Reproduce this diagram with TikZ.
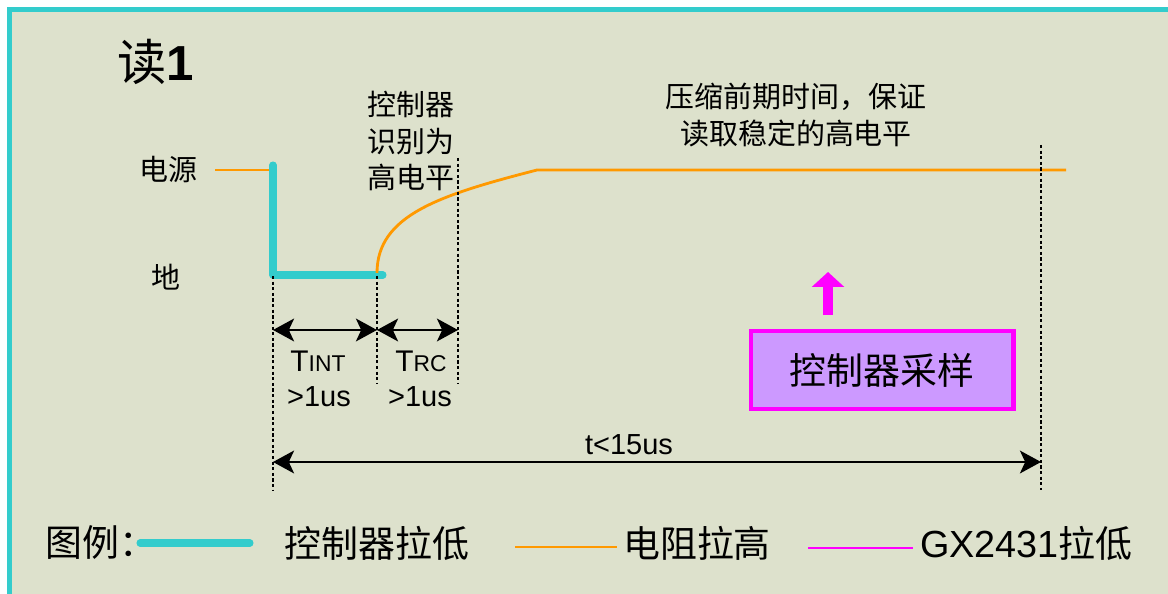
\documentclass[tikz,border=0pt]{standalone}
\usepackage{fontspec}
\setmainfont{Liberation Sans}
\newfontfamily\cjk{Noto Sans CJK SC}
\usetikzlibrary{positioning,arrows.meta}
\definecolor{colorbg}     {RGB}{221,225,204}
\definecolor{colorframe}  {RGB}{51 ,204,204}
\definecolor{colorpull}   {RGB}{255,153,0  }
\definecolor{colorgx}     {RGB}{255,0  ,255}
\definecolor{colorsample} {RGB}{204,153,255}
\definecolor{colortext}   {RGB}{0  ,0  ,0  }

\begin{document}
\begin{tikzpicture}[
    x=0.02cm, y=-0.02cm,
    txt/.style={text=colortext,font={\cjk\fontsize{16.5}{21}\selectfont},align=center,inner sep=0pt},
    big/.style={text=colortext,font={\cjk\fontsize{21}{25}\selectfont},inner sep=0pt},
    num/.style={text=colortext,font={\fontsize{16.5}{20}\selectfont},inner sep=0pt},
    low/.style={draw=colorframe,line width=4pt,line cap=round,line join=round},
    high/.style={draw=colorpull,line width=1.6pt},
    gx/.style={draw=colorgx,line width=1.6pt},
    guide/.style={draw=black,line width=1.4pt,dash pattern=on 1.8pt off 1.4pt},
    span/.style={draw=black,line width=1.2pt,{Stealth[length=12pt,width=13pt,inset=3pt]}-{Stealth[length=12pt,width=13pt,inset=3pt]}},
]

    \useasboundingbox (0,0) rectangle (1168,594);
    \fill [white] (0,0) rectangle (1168,594);
    \filldraw [fill=colorbg,draw=colorframe,line width=2.8pt] (9.5,9.5) rectangle (1200,640);

    \node[text=colortext,inner sep=0pt] at (156,62) (title) {{\cjk\fontsize{28}{30}\selectfont 读}{\fontsize{28}{30}\selectfont\bfseries 1}};
    \node[txt] at (168,170) (vcc) {电源};
    \node[txt] at (166,277) (gnd) {地};
    \node[txt] at (411,141) (detect) {控制器\\识别为\\高电平};
    \node[txt] at (796,115) (hold) {压缩前期时间，保证\\读取稳定的高电平};

    \coordinate (idle) at (215,170);
    \coordinate (lowtop) at (273,170);
    \coordinate (lowstart) at (273,165);
    \coordinate (lowcorner) at (273,275);
    \coordinate (lowend) at (383,275);
    \coordinate (rise) at (377,273);
    \coordinate (settled) at (537,170);
    \coordinate (highend) at (1066,170);

    \draw[high] (idle) -- (lowtop);
    \draw[low] (lowstart) -- (lowcorner) -- (lowend);
    \draw[high] (rise) .. controls (377,215) and (440,195) .. (settled) -- (highend);

    \coordinate (g1top) at (273,276);
    \coordinate (g1bot) at (273,490);
    \coordinate (g2top) at (377,276);
    \coordinate (g2bot) at (377,383);
    \coordinate (g3top) at (458,158);
    \coordinate (g3bot) at (458,383);
    \coordinate (g4top) at (1041,145);
    \coordinate (g4bot) at (1041,490);
    \draw[guide] (g1top) -- (g1bot);
    \draw[guide] (g2top) -- (g2bot);
    \draw[guide] (g3top) -- (g3bot);
    \draw[guide] (g4top) -- (g4bot);

    \coordinate (tint0) at (273,330);
    \coordinate (tint1) at (377,330);
    \coordinate (trc1) at (458,330);
    \coordinate (tall0) at (273,462);
    \coordinate (tall1) at (1041,462);
    \draw[span] (tint0) -- (tint1);
    \draw[span] (tint1) -- (trc1);
    \draw[span] (tall0) -- (tall1);

    \node[num] at (318,361) (tintlabel) {\fontsize{17}{20}\selectfont T\fontsize{13}{16}\selectfont INT};
    \node[num] at (319,397) (tintmin) {>1us};
    \node[num] at (421,361) (trclabel) {\fontsize{17}{20}\selectfont T\fontsize{13}{16}\selectfont RC};
    \node[num] at (420,397) (trcmin) {>1us};
    \node[num] at (629,445) (tmax) {t<15us};

    \node[big,draw=colorgx,line width=2.3pt,fill=colorsample,minimum width=5.26cm,minimum height=1.56cm] at (882,370) (sample) {控制器采样};
    \coordinate (upbase) at (828,315);
    \coordinate (uptip) at (828,272);
    \draw[draw=colorgx,line width=5.7pt,-{Triangle[length=8.5pt,width=18pt]}] (upbase) -- (uptip);

    \node[big,anchor=west] at (45,543) (legend) {图例：};
    \coordinate (leg1a) at (140,543);
    \coordinate (leg1b) at (250,543);
    \draw[low] (leg1a) -- (leg1b);
    \node[big] at (377,543) (leg1) {控制器拉低};
    \coordinate (leg2a) at (515,547);
    \coordinate (leg2b) at (617,547);
    \draw[high] (leg2a) -- (leg2b);
    \node[big] at (697,543) (leg2) {电阻拉高};
    \coordinate (leg3a) at (808,548);
    \coordinate (leg3b) at (913,548);
    \draw[gx] (leg3a) -- (leg3b);
    \node[big,anchor=west] at (920,543) (leg3) {{\fontsize{21.5}{25}\selectfont\rmfamily GX2431}拉低};

\end{tikzpicture}
\end{document}
